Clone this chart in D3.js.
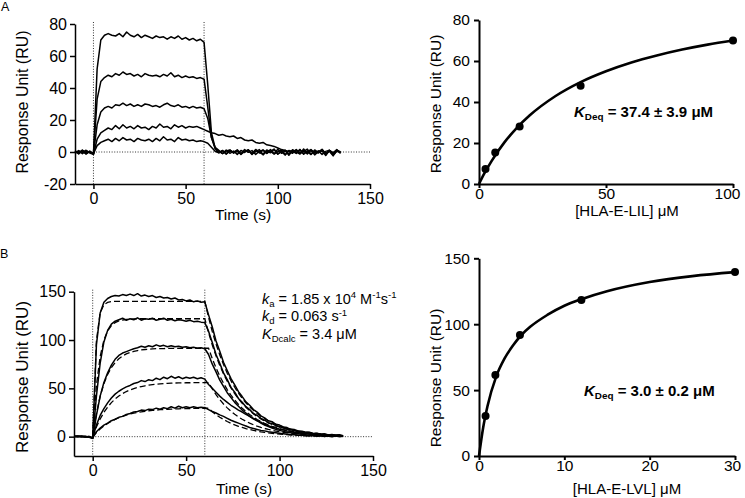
<!DOCTYPE html>
<html><head><meta charset="utf-8">
<script src="https://cdn.jsdelivr.net/npm/d3@7"></script>
<style>
html,body{margin:0;padding:0;background:#fff;}
svg{display:block;}
</style></head><body>
<svg id="chart" width="745" height="498"></svg>
<script>
// ---------------- DATA ----------------
// sampling grid of the sensorgrams (s)
const timeGrid = d3.range(-10, 135, 2);
const fitTimeGrid = d3.range(0, 135, 2);

// Panel A – sensorgrams (RU), HLA-E-LIL 100, 40, 16, 6.4, 2.56 µM
const aTrace100 = [0.8,-1.2,1.0,-0.6,0.4, -1.5, 52,70,73,74,73,72.5,74,72,75,73,72,73.5,71.5,73,72,71,72.5,71.5,72,70.5,72,71,72.5,70.5,71.5,70,71,69.5,70.5, 68.5, 42,12,2.5,0.5,-1,1.2,-0.8,0.6,-1.5,1,-0.3,1.4,-1.2,0.2,1.5,-1.8,0.7,-0.5,1.8,-1.4,0.3,1.2,-2,0.9,-0.6,1.6,-1.1,0.4,-1.6,1.3,-0.4,0.8,-2.2,1.1,-0.7,1.5,-0.9];
const aTrace40 = [-0.5,0.9,-1.1,0.6,-0.2, -1, 33,44,46.5,48,47,49,48,50,48.5,49,47.5,48.5,47,49,48,47.5,48,47,48.5,47.5,49.5,47,48,46.5,47.5,46.5,47,46,46.5, 45.5, 28,9,2,-0.5,0.8,-1.2,1.1,-0.4,0.9,-1.6,0.5,1.2,-0.9,1.6,-0.3,-1.4,1.3,0.2,-1.1,1.7,-0.8,0.6,-1.5,1.4,0.1,-1.3,1.9,-0.7,0.9,-1.8,0.4,1.2,-1,0.7,-1.9,0.5,0.2];
const aTrace16 = [0.3,-0.9,0.7,-1.3,0.5, -1.2, 17,25,27.5,28.5,27.5,29.5,29,30.5,29,30,28.5,29.5,28.5,30,29.5,28.5,29,28,29.5,30.5,29,28.5,29.5,28,28.5,27.5,28.5,27.5,28, 27, 21,9,3,1,-1,0.6,1.3,-0.7,0.4,-1.2,1.5,-0.2,0.9,-1.5,0.5,1.1,-0.9,1.6,-1.3,0.2,1.3,-1.7,0.8,-0.3,1.5,-1,0.3,1.8,-1.4,0.6,-0.5,1.4,-1.2,0.9,-0.6,1.2,-0.4];
const aTrace6 = [-0.8,0.5,-0.2,1.1,-0.6, -1.5, 8,12,13.5,15,14,16.5,14.5,17,15,16,14.5,16.5,15,15.5,14,16,15,17.5,15.5,16,14.5,17,15.5,16.5,15,16,15.5,16,15, 14, 13,12,11.5,10.5,11,10,9.5,10,8.5,9,7.5,7,7.5,6,5.5,6,4.5,4,3.5,2.5,1.5,1,0.3,-0.8,1.2,-0.4,0.9,-1.2,1.5,-0.6,0.7,-1.5,0.4,1.1,-0.9,0.8,-0.2];
const aTrace2 = [0.6,-0.4,1.2,-1,0.2, -1, 4,6,7,8,6.5,8.5,7,9,7.5,8,6.5,8.5,7.5,7,8,6.5,8.5,7,9.5,7.5,8,6.5,9,7.5,8,7,7.5,6.5,7, 6.5, 5.5,3,0.5,-0.5,1,-1.3,0.6,-0.2,1.4,-1,0.3,1.1,-1.6,0.8,-0.5,1.3,-0.8,0.5,1.6,-1.2,0.2,-1.9,1,0.4,-0.9,1.5,-1.4,0.6,1.2,-0.7,-0.3,1.7,-1.1,0.5,-2.4,0.8,0.1];

// Panel A – equilibrium binding
const aConc = [2.56, 6.4, 16, 40, 100];
const aResp = [7.3, 15.4, 28.1, 47.9, 70];
const aFitX = [0,2,5,10,15,20,30,40,50,60,70,80,90,100];
const aFitY = [0,4.9,11.3,20.3,27.5,33.5,42.8,49.7,55.0,59.3,62.7,65.6,68.0,70.0];

// Panel B – sensorgrams (RU), HLA-E-LVL 30, 12, 4.8, 1.92, 0.768 µM
const bTrace30 = [0.5,0.2,0.7,0,-0.6, -1.5, 95,128,139,143,145,146,145.5,147,146,147.5,146,148,145.5,146.5,145,146,144,145,143.5,144,142.5,143.5,141.5,142,140.5,141.5,139.5,140.5,139, 139.5, 126,113.5,99,88.5,77,68.5,60,53.5,46.5,41.5,36,32.5,28,25.5,21.5,19.5,16.5,15.5,12.8,12,10,9.4,7.6,7.3,5.8,5.7,4.5,4.6,3.4,3.6,2.5,2.9,1.8,2.3,1.4,1.9,1.0];
const bTrace12 = [0.3,0.6,-0.2,0.4,-0.5, -1.8, 42,76,98,110,116.5,119.5,121,122.5,120.5,122,121,123,120.5,122,121.5,122.5,120.5,121.5,122.5,120.5,121.5,120,121,120.5,119.5,120.5,119,119.5,118.5, 118, 109,97.5,85,76,66,59,51,46,39.5,35.5,31,28,24,22,19,17,14.5,13.5,11.5,10.5,9,8.4,7,6.6,5.4,5.2,4.1,4.2,3.1,3.3,2.3,2.6,1.6,2,1.2,1.6,0.8];
const bTrace4 = [-0.2,0.4,0.1,-0.4,0.3, -1.5, 22,42,56,66,74,80,84,86.5,88,89.5,91,92,93.5,92.5,94,93,95,93.5,94.5,93,94,93,93.5,92.5,93,92,92.5,91.5,92, 91, 85,75,67,58.5,52,45.5,40.5,35.5,31.5,27.5,24.5,21,19,16.5,15,12.5,11.5,9.7,9,7.6,7,5.8,5.5,4.4,4.2,3.3,3.2,2.4,2.5,1.8,1.9,1.2,1.5,0.8,1.2,0.5,0.9];
const bTrace1 = [0.4,-0.1,0.5,-0.3,0.2, -1.2, 12,22,29,35,40,44,47,49.5,51.5,53,55,56,58,57,59,58,60.5,59,61.5,60,62.5,60.5,62,60,61.5,60.5,61.5,60,61, 59.5, 54,50,46,42,38.5,35.5,32.5,30,27.5,25.5,23,21,18.5,16.5,14,12,10.5,9,7.5,6.5,5.5,4.5,4,3.5,3,2.5,2,1.5,1.5,1,1.2,0.6,0.9,0.3,0.8,0.2,0.5];
const bTrace07 = [0.2,0.5,-0.2,0.3,-0.4, -1.2, 5,9,12,14,16.5,18,20,21,23,24,25.5,26,27.5,27,28.5,28,29.5,28.5,30,29,31,29.5,31.5,30,31,30,31,30,30.5, 30, 28,26,24.5,22.5,21,19,17,15.5,14,12.5,11,9.5,8.5,7.5,6.5,6,5,4.5,4,3.5,3,2.5,2,2,1.5,1.5,1,0.6,1.1,0.3,0.9,0.2,0.7,-0.2,0.6,0.1,0.4];

// Panel B – global kinetic fits (dashed)
const bFit30 = [0, 99.3,128.2,136.6,139.0,139.7,140,140,140,140,140,140,140,140,140,140,140,140,140,140,140,140,140,140,140,140,140,140,140, 140, 140, 123.4,108.8,95.9,84.6,74.6,65.7,57.9,51.1,45.0,39.7,35.0,30.9,27.2,24.0,21.2,18.6,16.4,14.5,12.8,11.3,9.9,8.8,7.7,6.8,6.0,5.3,4.7,4.1,3.6,3.2,2.8,2.5,2.2,1.9,1.7,1.5];
const bFit12 = [0, 53.0,83.0,99.9,109.5,114.9,118.0,119.7,120.7,121.3,121.6,121.8,122,122,122,122,122,122,122,122,122,122,122,122,122,122,122,122,122, 122, 122, 107.6,94.8,83.6,73.7,65.0,57.3,50.5,44.5,39.2,34.6,30.5,26.9,23.7,20.9,18.4,16.3,14.3,12.6,11.1,9.8,8.6,7.6,6.7,5.9,5.2,4.6,4.1,3.6,3.2,2.8,2.5,2.2,1.9,1.7,1.5,1.3];
const bFit4 = [0, 24.0,41.7,54.7,64.4,71.5,76.7,80.6,83.5,85.6,87.1,88.3,89.1,89.7,90.2,90.5,90.8,91.0,91.1,91.2,91.3,91.4,91.4,91.4,91.5,91.5,91.5,91.5,91.5,91.5, 91.5, 91.5, 80.7,71.1,62.7,55.3,48.7,43.0,37.9,33.4,29.4,26.0,22.9,20.2,17.8,15.7,13.8,12.2,10.7,9.5,8.4,7.4,6.5,5.7,5.0,4.4,3.9,3.5,3.0,2.7,2.4,2.1,1.8,1.6,1.4,1.3,1.1,1.0];
const bFit1 = [0, 10.0,18.3,25.1,30.6,35.2,39.0,42.0,44.6,46.7,48.4,49.8,50.9,51.9,52.6,53.3,53.8,54.2,54.6,54.9,55.1,55.3,55.5,55.6,55.7,55.8,55.8,55.9,55.9,56.0, 56.0, 56.0, 49.4,43.5,38.4,33.8,29.8,26.3,23.2,20.4,18.0,15.9,14.0,12.3,10.9,9.6,8.5,7.5,6.6,5.8,5.1,4.5,4.0,3.5,3.1,2.7,2.4,2.1,1.9,1.6,1.5,1.3,1.1,1.0,0.9,0.8,0.7,0.6];
const bFit07 = [0, 4.3,7.9,11.0,13.7,16.0,17.9,19.6,21.1,22.3,23.4,24.3,25.0,25.7,26.3,26.8,27.2,27.5,27.9,28.1,28.3,28.5,28.7,28.8,29.0,29.0,29.1,29.2,29.3,29.3, 29.4, 29.4, 25.9,22.8,20.1,17.8,15.7,13.8,12.2,10.7,9.5,8.3,7.4,6.5,5.7,5.0,4.4,3.9,3.5,3.0,2.7,2.4,2.1,1.8,1.6,1.4,1.3,1.1,1.0,0.9,0.8,0.7,0.6,0.5,0.5,0.4,0.4,0.3];

// Panel B – equilibrium binding
const bConc = [0.768, 1.92, 4.8, 12, 30];
const bResp = [30.3, 61.5, 91.8, 118.4, 139.6];
const bFitX = [0,0.5,1,2,3,4,5,6,8,10,12,15,20,25,30];
const bFitY = [0,22,38,60,74,84,92,98,107,114,119,125,132,136.5,139.5];

// tick values
const timeTicks = [0, 50, 100, 150];
const aSensorTicks = [-20, 0, 20, 40, 60, 80];
const bSensorTicks = [0, 50, 100, 150];
const aBindXTicks = [0, 50, 100];
const aBindYTicks = [0, 20, 40, 60, 80];
const bBindXTicks = [0, 10, 20, 30];
const bBindYTicks = [0, 50, 100, 150];

// ---------------- DRAW ----------------
const FONT = '"Liberation Sans", Arial, Helvetica, sans-serif';
const svg = d3.select('#chart').attr('font-family', FONT);
svg.append('rect').attr('width', 745).attr('height', 498).attr('fill', '#fff');

function styleAxis(sel, fs, sw) {
  sel.attr('font-family', FONT).attr('font-size', fs);
  sel.select('.domain').attr('stroke', '#000').attr('stroke-width', sw);
  sel.selectAll('.tick line').attr('stroke', '#000').attr('stroke-width', sw);
  sel.selectAll('.tick text').attr('fill', '#000');
}

function richText(x, y, parts, size, weight) {
  const t = svg.append('text').attr('x', x).attr('y', y)
    .attr('font-size', size).attr('font-weight', weight || 'normal')
    .attr('fill', '#000').style('white-space', 'pre');
  let cur = 0;
  parts.forEach(p => {
    const target = p.sub ? size * 0.22 : p.sup ? -size * 0.36 : 0;
    const ts = t.append('tspan').text(p.t).attr('dy', target - cur);
    cur = target;
    if (p.sub || p.sup) ts.attr('font-size', size * 0.66);
    if (p.it) ts.attr('font-style', 'italic');
  });
  return t;
}

function vLabel(x, y, text, size) {
  svg.append('text').attr('transform', `translate(${x},${y}) rotate(-90)`)
    .attr('text-anchor', 'middle').attr('dominant-baseline', 'central')
    .attr('font-size', size).attr('fill', '#000').text(text);
}
function hLabel(x, y, text, size) {
  svg.append('text').attr('x', x).attr('y', y)
    .attr('text-anchor', 'middle').attr('dominant-baseline', 'central')
    .attr('font-size', size).attr('fill', '#000').text(text);
}

function sensorPanel(cfg) {
  const x = d3.scaleLinear().domain([-10, 150]).range([cfg.x0, cfg.x1]);
  const y = d3.scaleLinear().domain(cfg.yDomain).range([cfg.yBottom, cfg.yTop]);
  const g = svg.append('g');
  const dotted = sel => sel.attr('stroke', '#333').attr('stroke-width', 1).attr('stroke-dasharray', '1,1.6');
  g.append('line').attr('x1', x(0)).attr('x2', x(0)).attr('y1', y(cfg.yDomain[1]) - 2).attr('y2', cfg.yBottom).call(dotted);
  g.append('line').attr('x1', x(60)).attr('x2', x(60)).attr('y1', y(cfg.yDomain[1]) - 2).attr('y2', cfg.yBottom).call(dotted);
  g.append('line').attr('x1', x(0)).attr('x2', x(150)).attr('y1', y(0)).attr('y2', y(0)).call(dotted);

  const line = d3.line().x(d => x(d[0])).y(d => y(d[1]));
  (cfg.fits || []).forEach(f => {
    g.append('path').datum(fitTimeGrid.map((t, i) => [t, f[i]]).filter(d => d[1] != null))
      .attr('d', line).attr('fill', 'none').attr('stroke', '#000')
      .attr('stroke-width', 1.3).attr('stroke-dasharray', '6,3');
  });
  cfg.traces.forEach(tr => {
    g.append('path').datum(timeGrid.map((t, i) => [t, tr[i]]).filter(d => d[1] != null))
      .attr('d', line).attr('fill', 'none').attr('stroke', '#000')
      .attr('stroke-width', 1.5).attr('stroke-linejoin', 'round');
  });

  g.append('g').attr('transform', `translate(0,${cfg.yBottom})`)
    .call(d3.axisBottom(x).tickValues(timeTicks).tickSize(5).tickSizeOuter(0).tickPadding(4).tickFormat(d => String(d)))
    .call(s => styleAxis(s, 16, 1.5));
  g.append('g').attr('transform', `translate(${cfg.x0},0)`)
    .call(d3.axisLeft(y).tickValues(cfg.yTicks).tickSize(5).tickSizeOuter(0).tickPadding(3).tickFormat(d => String(d)))
    .call(s => styleAxis(s, 16, 1.5));
}

function bindingPanel(cfg) {
  const x = d3.scaleLinear().domain([0, cfg.xMax]).range([479, cfg.x1]);
  const y = d3.scaleLinear().domain([0, cfg.yMax]).range([cfg.yBottom, cfg.yTop]);
  const g = svg.append('g');
  g.append('g').attr('transform', `translate(0,${cfg.yBottom})`)
    .call(d3.axisBottom(x).tickValues(cfg.xTicks).tickSize(4).tickSizeOuter(0).tickPadding(0))
    .call(s => styleAxis(s, 15.5, 2))
    .call(s => s.selectAll('.tick text').filter(d => d === cfg.xMax).attr('dx', cfg.lastDx));
  g.append('g').attr('transform', 'translate(479,0)')
    .call(d3.axisLeft(y).tickValues(cfg.yTicks).tickSize(5).tickSizeOuter(0).tickPadding(4))
    .call(s => styleAxis(s, 15.5, 2));
  const line = d3.line().curve(d3.curveMonotoneX).x(d => x(d[0])).y(d => y(d[1]));
  g.append('path').datum(cfg.fitX.map((v, i) => [v, cfg.fitY[i]]))
    .attr('d', line).attr('fill', 'none').attr('stroke', '#000').attr('stroke-width', 2.6);
  g.selectAll('circle.pt').data(cfg.conc.map((c, i) => [c, cfg.resp[i]])).enter()
    .append('circle').attr('cx', d => x(d[0])).attr('cy', d => y(d[1])).attr('r', 4).attr('fill', '#000');
}

// Panel A
sensorPanel({ x0: 75, x1: 370, yDomain: [-20, 80], yBottom: 184, yTop: 24, yTicks: aSensorTicks,
  traces: [aTrace100, aTrace40, aTrace16, aTrace6, aTrace2] });
bindingPanel({ xMax: 100, x1: 733, yMax: 80, yBottom: 184, yTop: 20, xTicks: aBindXTicks, yTicks: aBindYTicks,
  conc: aConc, resp: aResp, fitX: aFitX, fitY: aFitY, lastDx: -6 });

// Panel B
sensorPanel({ x0: 74, x1: 373, yDomain: [-20, 150], yBottom: 456, yTop: 291.7, yTicks: bSensorTicks,
  traces: [bTrace30, bTrace12, bTrace4, bTrace1, bTrace07],
  fits: [bFit30, bFit12, bFit4, bFit1, bFit07] });
bindingPanel({ xMax: 30, x1: 735, yMax: 150, yBottom: 456, yTop: 258.3, xTicks: bBindXTicks, yTicks: bBindYTicks,
  conc: bConc, resp: bResp, fitX: bFitX, fitY: bFitY, lastDx: -3 });

// Axis titles
vLabel(22, 102, 'Response Unit (RU)', 16);
vLabel(22, 377, 'Response Unit (RU)', 17);
vLabel(435, 104, 'Response Unit (RU)', 15.5);
vLabel(435, 378, 'Response Unit (RU)', 15.5);
hLabel(243, 214, 'Time (s)', 15.5);
hLabel(244, 488, 'Time (s)', 15.5);
hLabel(627, 210, '[HLA-E-LIL] \u03BCM', 15);
hLabel(627, 488, '[HLA-E-LVL] \u03BCM', 15);

// Panel letters
svg.append('text').attr('x', 1).attr('y', 11).attr('font-size', 12.5).text('A');
svg.append('text').attr('x', 0).attr('y', 258).attr('font-size', 12.5).text('B');

// Annotations
richText(574, 116.5, [{ t: 'K', it: true }, { t: 'Deq', sub: true }, { t: ' = 37.4 \u00B1 3.9 \u03BCM' }], 15, 'bold');
richText(584, 396, [{ t: 'K', it: true }, { t: 'Deq', sub: true }, { t: ' = 3.0 \u00B1 0.2 \u03BCM' }], 15, 'bold');
richText(262, 303.5, [{ t: 'k', it: true }, { t: 'a', sub: true }, { t: ' = 1.85 x 10' }, { t: '4', sup: true }, { t: ' M' }, { t: '-1', sup: true }, { t: 's' }, { t: '-1', sup: true }], 14.5);
richText(262, 321, [{ t: 'k', it: true }, { t: 'd', sub: true }, { t: ' = 0.063 s' }, { t: '-1', sup: true }], 14.5);
richText(262, 338.5, [{ t: 'K', it: true }, { t: 'Dcalc', sub: true }, { t: ' = 3.4 \u03BCM' }], 14.5);
</script>
</body></html>
